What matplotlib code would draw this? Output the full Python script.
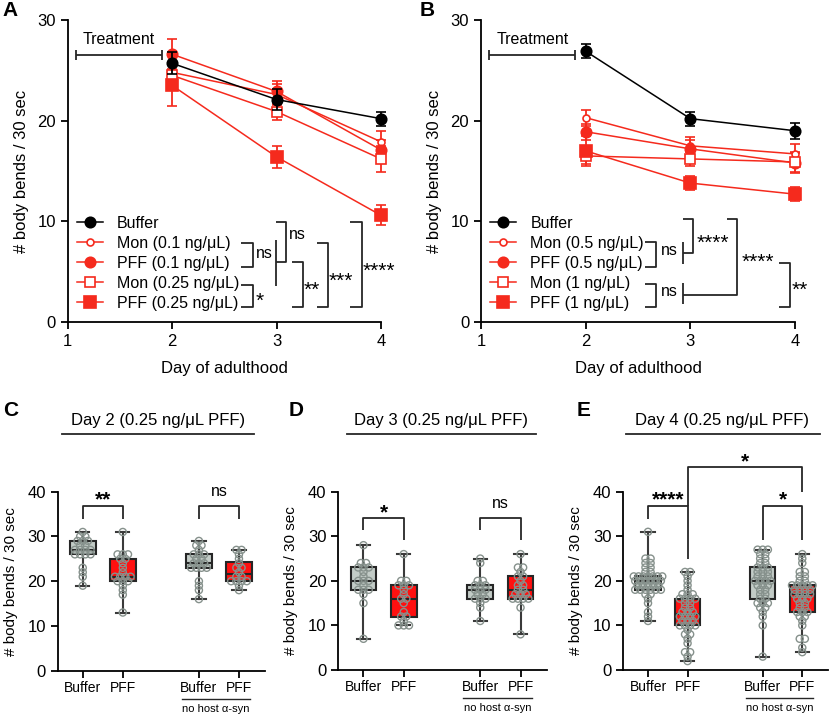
import matplotlib
matplotlib.use("Agg")
import matplotlib.pyplot as plt
import matplotlib.transforms as mtransforms
from matplotlib.lines import Line2D
import numpy as np

plt.rcParams['font.family'] = ['Liberation Sans', 'DejaVu Sans']
plt.rcParams['axes.linewidth'] = 1.3
plt.rcParams['xtick.major.width'] = 1.3
plt.rcParams['ytick.major.width'] = 1.3
plt.rcParams['xtick.major.size'] = 5
plt.rcParams['ytick.major.size'] = 5
plt.rcParams['xtick.labelsize'] = 12
plt.rcParams['ytick.labelsize'] = 12

RED = '#f52a1d'
BOXRED = '#ff1010'
GREY = '#c3ccc7'
DOT = '#86918c'
INK = '#262626'

# ---- panels A / B : mean +- sem per day ----
days = [2, 3, 4]

labels_a = ['Buffer', 'Mon (0.1 ng/μL)', 'PFF (0.1 ng/μL)', 'Mon (0.25 ng/μL)', 'PFF (0.25 ng/μL)']
mean_a = [[25.7, 22.1, 20.2],
          [24.8, 22.6, 17.9],
          [26.6, 22.9, 17.1],
          [24.5, 20.9, 16.2],
          [23.5, 16.4, 10.6]]
sem_a = [[1.1, 1.0, 0.7],
         [0.9, 1.0, 1.1],
         [1.5, 1.0, 1.0],
         [1.0, 0.8, 1.3],
         [2.0, 1.1, 1.0]]

labels_b = ['Buffer', 'Mon (0.5 ng/μL)', 'PFF (0.5 ng/μL)', 'Mon (1 ng/μL)', 'PFF (1 ng/μL)']
mean_b = [[26.9, 20.2, 19.0],
          [20.3, 17.5, 16.7],
          [18.9, 17.2, 15.8],
          [16.5, 16.2, 15.9],
          [17.0, 13.8, 12.7]]
sem_b = [[0.7, 0.7, 0.8],
         [0.8, 0.9, 1.0],
         [0.8, 0.9, 1.0],
         [0.8, 0.7, 1.0],
         [1.5, 0.7, 0.7]]

# ---- panels C / D / E : individual worms ----
box_names = ['Buffer', 'PFF', 'Buffer', 'PFF']
day2_buffer = [19, 21, 22, 23, 26, 26, 26, 26, 27, 27, 27, 27, 28, 28, 29, 29, 29, 30, 30, 31]
day2_pff = [13, 17, 18, 19, 20, 20, 20, 21, 21, 21, 21, 22, 23, 24, 25, 25, 26, 26, 26, 31]
day2_buffer_nohost = [16, 18, 19, 20, 23, 23, 23, 23, 24, 24, 24, 25, 25, 26, 26, 26, 27, 28, 28, 29]
day2_pff_nohost = [18, 19, 20, 20, 20, 20, 21, 21, 22, 23, 23, 24, 25, 26, 27, 27]

day3_buffer = [7, 15, 17, 18, 18, 18, 19, 20, 20, 20, 21, 22, 23, 23, 23, 24, 24, 28]
day3_pff = [10, 10, 10, 11, 12, 12, 13, 15, 16, 16, 17, 18, 19, 19, 19, 20, 20, 26]
day3_buffer_nohost = [11, 14, 15, 16, 16, 16, 17, 17, 18, 18, 18, 19, 19, 19, 20, 20, 24, 25]
day3_pff_nohost = [8, 14, 16, 16, 16, 16, 17, 17, 17, 18, 18, 19, 19, 20, 21, 21, 22, 23, 23, 26]

day4_buffer = [11, 12, 13, 15, 16, 17, 17, 18, 18, 18, 18, 18, 18, 19, 19, 19, 19, 19, 20, 20,
               20, 20, 20, 20, 21, 21, 21, 21, 21, 21, 21, 22, 22, 23, 23, 24, 24, 25, 25, 31]
day4_pff = [2, 3, 4, 4, 6, 7, 8, 8, 9, 10, 10, 10, 10, 11, 11, 11, 12, 12, 12, 12,
            13, 13, 13, 14, 14, 15, 15, 16, 16, 16, 16, 17, 17, 17, 18, 19, 20, 21, 22, 22]
day4_buffer_nohost = [3, 10, 12, 13, 14, 14, 15, 15, 15, 16, 16, 17, 17, 18, 18, 19, 19, 19, 20, 20,
                      20, 20, 21, 21, 21, 22, 22, 22, 23, 23, 23, 24, 24, 25, 25, 26, 26, 27, 27, 27]
day4_pff_nohost = [4, 5, 7, 7, 10, 11, 12, 12, 13, 13, 13, 14, 14, 15, 15, 16, 16, 16, 17, 17,
                   17, 17, 18, 18, 18, 18, 19, 19, 19, 19, 19, 20, 20, 21, 21, 22, 22, 24, 25, 26]

marker = ['o', 'o', 'o', 's', 's']
face = ['black', 'white', RED, 'white', RED]
edge = ['black', RED, RED, RED, RED]
msize = [7.5, 5, 7.5, 7, 9]

W, H = 830, 716
fig = plt.figure(figsize=(W / 100, H / 100), dpi=100)


def px_axes(x0, y0, x1, y1):
    return fig.add_axes([x0 / W, 1 - y1 / H, (x1 - x0) / W, (y1 - y0) / H])


def draw(ax, xs, ys, **kw):
    ax.plot(xs, ys, color=INK, lw=1.3, clip_on=False, solid_capstyle='butt', **kw)


def line_panel(ax, means, sems, labels):
    for i in range(len(means)):
        eb = ax.errorbar(days, means[i], yerr=sems[i], marker=marker[i], ms=msize[i],
                         mfc=face[i], mec=edge[i], mew=1.2, color=edge[i], lw=1.1,
                         elinewidth=1.3, capsize=3.8, capthick=1.3, zorder=3 + (i == 0))
        for part in eb.get_children():
            part.set_clip_on(False)
    ax.set_xlim(1, 4)
    ax.set_ylim(0, 30)
    ax.set_xticks([1, 2, 3, 4])
    ax.set_yticks([0, 10, 20, 30])
    ax.spines[['top', 'right']].set_visible(False)
    ax.set_xlabel('Day of adulthood', fontsize=12, labelpad=9)
    ax.set_ylabel('# body bends / 30 sec', fontsize=12, labelpad=6)
    handles = [Line2D([], [], marker=marker[i], ms=msize[i], mfc=face[i], mec=edge[i],
                      mew=1.2, color=edge[i], lw=1.1) for i in range(len(labels))]
    ax.legend(handles, labels, loc='lower left', bbox_to_anchor=(0.03, 0.037),
              frameon=False, fontsize=11.5, handlelength=1.6, handletextpad=0.9,
              labelspacing=0.31, borderpad=0, borderaxespad=0)
    # treatment window
    draw(ax, [1.08, 1.9], [26.5, 26.5])
    draw(ax, [1.08, 1.08], [26.0, 27.0])
    draw(ax, [1.9, 1.9], [26.0, 27.0])
    ax.text(1.49, 28.1, 'Treatment', ha='center', va='center', fontsize=11.5)


def bracket(ax, x0, x1, ytop, ybot):
    draw(ax, [x0, x1, x1, x0], [ytop, ytop, ybot, ybot])


def stars(ax, x, y, s, ha='left', weight='normal'):
    ax.text(x, y, s, ha=ha, va='baseline', fontsize=15, fontweight=weight)


def ns(ax, x, y, ha='left'):
    ax.text(x, y, 'ns', ha=ha, va='baseline', fontsize=11.5)


# ---- A ----
axA = px_axes(67.7, 20, 381, 322)
line_panel(axA, mean_a, sem_a, labels_a)
bracket(axA, 2.66, 2.77, 7.87, 5.46)
ns(axA, 2.80, 6.39)
bracket(axA, 2.66, 2.77, 3.63, 1.46)
stars(axA, 2.80, 1.50, '*')
draw(axA, [2.99, 2.99], [8.1, 3.6])
bracket(axA, 2.99, 3.09, 9.9, 5.93)
ns(axA, 3.12, 8.23)
bracket(axA, 3.15, 3.25, 5.93, 1.46)
stars(axA, 3.26, 2.56, '**')
bracket(axA, 3.39, 3.49, 7.87, 1.46)
stars(axA, 3.50, 3.46, '***')
bracket(axA, 3.70, 3.82, 9.96, 1.46)
stars(axA, 3.82, 4.48, '****')

# ---- B ----
axB = px_axes(481, 20, 795, 322)
line_panel(axB, mean_b, sem_b, labels_b)
bracket(axB, 2.567, 2.67, 7.9, 5.5)
ns(axB, 2.72, 6.67)
bracket(axB, 2.567, 2.67, 3.73, 1.46)
ns(axB, 2.72, 2.54)
draw(axB, [2.93, 2.93], [7.9, 5.76])
draw(axB, [2.93, 2.93], [3.84, 1.79])
draw(axB, [2.93, 3.03, 3.03, 2.93], [10.2, 10.2, 6.88, 6.88])
stars(axB, 3.06, 7.22, '****')
draw(axB, [3.35, 3.45, 3.45, 2.93], [10.2, 10.2, 2.68, 2.68])
stars(axB, 3.49, 5.37, '****')
bracket(axB, 3.85, 3.95, 5.89, 1.46)
stars(axB, 3.97, 2.56, '**')

# ---- C / D / E ----
pos = [1, 2, 3.9, 4.9]
fills = [GREY, BOXRED, GREY, BOXRED]


def swarm(vals, p, dx=0.13, maxw=0.36):
    vals = np.asarray(vals, float)
    xs = np.empty_like(vals)
    for v in np.unique(vals):
        idx = np.where(vals == v)[0]
        k = len(idx)
        step = dx if k < 2 else min(dx, 2 * maxw / (k - 1))
        xs[idx] = p + (np.arange(k) - (k - 1) / 2) * step
    return xs


def box_panel(ax, groups):
    bp = ax.boxplot(groups, positions=pos, widths=0.64, whis=(0, 100), patch_artist=True,
                    showfliers=False, capwidths=0.33,
                    boxprops=dict(edgecolor=INK, linewidth=1.5),
                    whiskerprops=dict(color='#3a3a3a', linewidth=1.5),
                    capprops=dict(color='#3a3a3a', linewidth=1.5),
                    medianprops=dict(color=INK, linewidth=1.5))
    for patch, c in zip(bp['boxes'], fills):
        patch.set_facecolor(c)
    for g, p in zip(groups, pos):
        ax.scatter(swarm(g, p), g, s=26, facecolors='none', edgecolors=DOT, linewidths=1.0,
                   zorder=4, clip_on=False)
    ax.set_xlim(0.375, 5.55)
    ax.set_ylim(0, 40)
    ax.set_yticks([0, 10, 20, 30, 40])
    ax.set_xticks(pos)
    ax.set_xticklabels(box_names, fontsize=10)
    ax.tick_params(axis='x', pad=2.5)
    ax.tick_params(axis='y', labelsize=12)
    ax.spines[['top', 'right']].set_visible(False)
    ax.set_ylabel('# body bends / 30 sec', fontsize=11, labelpad=7)
    trans = mtransforms.blended_transform_factory(ax.transData, ax.transAxes)
    ax.plot([3.48, 5.18], [-0.158, -0.158], color=INK, lw=1.0, transform=trans, clip_on=False)
    ax.text(4.33, -0.213, 'no host α-syn', ha='center', va='center', fontsize=8, transform=trans)


def cbracket(ax, x0, x1, ytop, yl, yr):
    draw(ax, [x0, x0, x1, x1], [yl, ytop, ytop, yr])


axC = px_axes(57.7, 491.7, 265, 670.7)
box_panel(axC, [day2_buffer, day2_pff, day2_buffer_nohost, day2_pff_nohost])
cbracket(axC, 1, 2, 36.9, 33.8, 33.8)
stars(axC, 1.5, 37.0, '**', ha='center', weight='bold')
cbracket(axC, 3.9, 4.9, 36.9, 33.8, 33.8)
ns(axC, 4.4, 39.1, ha='center')

axD = px_axes(338.3, 491.7, 546.7, 670)
box_panel(axD, [day3_buffer, day3_pff, day3_buffer_nohost, day3_pff_nohost])
cbracket(axD, 1, 2, 34.0, 31.4, 29.2)
stars(axD, 1.5, 33.95, '*', ha='center', weight='bold')
cbracket(axD, 3.9, 4.9, 34.0, 31.4, 29.2)
ns(axD, 4.4, 36.3, ha='center')

axE = px_axes(623.3, 491.7, 828, 670)
box_panel(axE, [day4_buffer, day4_pff, day4_buffer_nohost, day4_pff_nohost])
cbracket(axE, 1, 2, 36.8, 33.8, 25.0)
stars(axE, 1.5, 37.0, '****', ha='center', weight='bold')
cbracket(axE, 3.9, 4.9, 36.8, 29.1, 29.1)
stars(axE, 4.4, 37.0, '*', ha='center', weight='bold')
cbracket(axE, 2, 4.9, 45.6, 36.8, 40.0)
stars(axE, 3.45, 45.5, '*', ha='center', weight='bold')

# titles with underline
for cx, x0, x1, t in [(158, 62, 254, 'Day 2 (0.25 ng/μL PFF)'),
                      (441, 347, 536, 'Day 3 (0.25 ng/μL PFF)'),
                      (722, 626, 820, 'Day 4 (0.25 ng/μL PFF)')]:
    fig.text(cx / W, 1 - 420 / H, t, ha='center', va='center', fontsize=12)
    fig.add_artist(Line2D([x0 / W, x1 / W], [1 - 434 / H, 1 - 434 / H], color=INK, lw=1.3,
                          transform=fig.transFigure))

for x, y, s in [(2, 10, 'A'), (420, 10, 'B'), (3, 410, 'C'), (289, 410, 'D'), (577, 410, 'E')]:
    fig.text(x / W, 1 - y / H, s, ha='left', va='center', fontsize=15, fontweight='bold')

fig.savefig('out.png', dpi=100)
